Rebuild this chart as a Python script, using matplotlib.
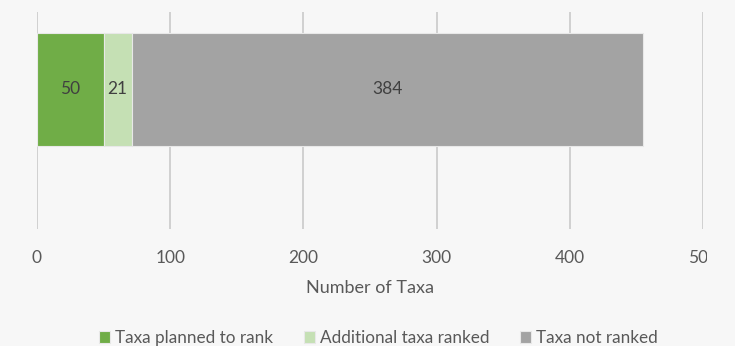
import matplotlib.pyplot as plt
from matplotlib.transforms import Bbox

# taxa counts per ranking status
categories = ["Taxa planned to rank", "Additional taxa ranked", "Taxa not ranked"]
counts = [50, 21, 384]
colors = ["#70ad47", "#c5e0b4", "#a3a3a3"]
xticks = [0, 100, 200, 300, 400, 500]

plt.rcParams['font.family'] = ['Lato', 'DejaVu Sans']
txt = "#595959"

fig = plt.figure(figsize=(7.35, 3.46), dpi=100, facecolor="#f7f7f7")
ax = fig.add_axes([37/735, 1-229/346, 666/735, 217/346], facecolor="#f7f7f7")

left = 0
for name, val, col in zip(categories, counts, colors):
    ax.barh(0, val, left=left, height=0.6, color=col, label=name,
            edgecolor="#e8e8e8", linewidth=0.8, zorder=3)
    ax.text(left + val/2, 0, str(val), ha="center", va="center",
            fontsize=12.5, color="#404040", zorder=4)
    left += val

ax.set_xlim(0, 500)
ax.set_ylim(-0.74, 0.41)
ax.set_xticks(xticks)
ax.set_yticks([])
ax.grid(axis="x", color="#cacaca", linewidth=1.2, zorder=0)
for s in ax.spines.values():
    s.set_visible(False)
ax.tick_params(axis="x", length=0, pad=15, labelsize=12.5, labelcolor=txt)
ax.set_xlabel("Number of Taxa", fontsize=13, color=txt, labelpad=10)

# last tick label runs off the right edge
clip = Bbox.from_extents(0, 0, 707, 346)
for lab in ax.get_xticklabels():
    lab.set_clip_box(clip)
    lab.set_clip_on(True)

fig.legend(loc="center", bbox_to_anchor=(0.515, 1-338/346), ncol=3, frameon=False,
           fontsize=12.3, labelcolor=txt, handlelength=0.65, handleheight=0.65,
           handletextpad=0.3, columnspacing=1.8)

fig.savefig("out.png", dpi=100, facecolor=fig.get_facecolor())
